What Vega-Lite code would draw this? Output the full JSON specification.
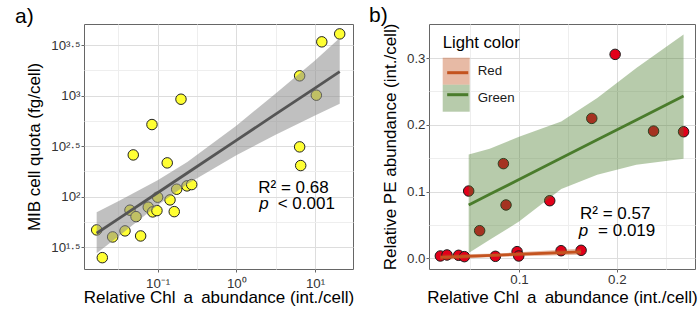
{
  "$schema": "https://vega.github.io/schema/vega-lite/v6.json",
  "padding": {"left": 14, "top": 4, "right": 5, "bottom": 0},
  "bounds": "flush",
  "spacing": 76,
  "config": {
    "font": "Liberation Sans",
    "view": {"stroke": "#666666", "strokeWidth": 1},
    "axis": {
      "domain": false,
      "tickSize": 3,
      "labelFontSize": 13.3,
      "labelColor": "#333333",
      "labelPadding": 2,
      "titleFontSize": 17,
      "titleFontWeight": "normal",
      "titleColor": "#000000"
    },
    "legend": {
      "titleFontSize": 16.7,
      "titleFontWeight": "normal",
      "titleColor": "#000000",
      "labelFontSize": 13.3,
      "labelColor": "#1a1a1a"
    }
  },
  "datasets": {
    "a_pts": [
      {"chl": 0.0168, "mib": 46.7}, {"chl": 0.0198, "mib": 24.8}, {"chl": 0.0268, "mib": 39.8},
      {"chl": 0.0385, "mib": 45.7}, {"chl": 0.0445, "mib": 73.3}, {"chl": 0.0531, "mib": 63.3},
      {"chl": 0.0608, "mib": 40.7}, {"chl": 0.076, "mib": 78.5}, {"chl": 0.0865, "mib": 70.5},
      {"chl": 0.098, "mib": 72.6}, {"chl": 0.1, "mib": 98.6}, {"chl": 0.1436, "mib": 92.7},
      {"chl": 0.1626, "mib": 70.9}, {"chl": 0.1746, "mib": 118.3}, {"chl": 0.236, "mib": 127.6},
      {"chl": 0.271, "mib": 131.5}, {"chl": 0.049, "mib": 258.8}, {"chl": 0.1324, "mib": 215.8},
      {"chl": 0.0847, "mib": 517.6}, {"chl": 0.198, "mib": 923}, {"chl": 6.38, "mib": 1574},
      {"chl": 6.38, "mib": 311}, {"chl": 6.58, "mib": 203}, {"chl": 10.4, "mib": 1012},
      {"chl": 12.2, "mib": 3420}, {"chl": 20.6, "mib": 4100}
    ],
    "a_fit": [
      {"chl": 0.01679, "fit": 43.25, "lo": 27.5, "hi": 70},
      {"chl": 0.03162, "fit": 60.1, "lo": 40.3, "hi": 89.7},
      {"chl": 0.1, "fit": 109.1, "lo": 82.0, "hi": 145.2},
      {"chl": 0.2382, "fit": 171.4, "lo": 133.0, "hi": 220.8},
      {"chl": 1, "fit": 360.6, "lo": 257.6, "hi": 504.7},
      {"chl": 3.162, "fit": 656.1, "lo": 409.3, "hi": 1052},
      {"chl": 10, "fit": 1191, "lo": 636.8, "hi": 2228},
      {"chl": 20.61, "fit": 1734, "lo": 830, "hi": 3742}
    ],
    "b_pts": [
      {"chl": 0.0195, "pe": 0.0035, "light": "Red"}, {"chl": 0.0263, "pe": 0.005, "light": "Red"},
      {"chl": 0.0382, "pe": 0.0045, "light": "Red"}, {"chl": 0.0441, "pe": 0.0025, "light": "Red"},
      {"chl": 0.0758, "pe": 0.003, "light": "Red"}, {"chl": 0.098, "pe": 0.01, "light": "Red"},
      {"chl": 0.0997, "pe": 0.0035, "light": "Red"}, {"chl": 0.143, "pe": 0.0114, "light": "Red"},
      {"chl": 0.1635, "pe": 0.012, "light": "Red"},
      {"chl": 0.0485, "pe": 0.1008, "light": "Green"}, {"chl": 0.0597, "pe": 0.0414, "light": "Green"},
      {"chl": 0.084, "pe": 0.1418, "light": "Green"}, {"chl": 0.0867, "pe": 0.0799, "light": "Green"},
      {"chl": 0.1314, "pe": 0.0863, "light": "Green"}, {"chl": 0.1744, "pe": 0.2096, "light": "Green"},
      {"chl": 0.1983, "pe": 0.3055, "light": "Green"}, {"chl": 0.2376, "pe": 0.1906, "light": "Green"},
      {"chl": 0.2683, "pe": 0.1896, "light": "Green"}
    ],
    "b_fit": [
      {"chl": 0.0195, "fit": 0.0015, "lo": -0.0025, "hi": 0.0055, "light": "Red"},
      {"chl": 0.0787, "fit": 0.0049, "lo": 0.0024, "hi": 0.0074, "light": "Red"},
      {"chl": 0.1635, "fit": 0.0097, "lo": 0.0052, "hi": 0.0142, "light": "Red"},
      {"chl": 0.0485, "fit": 0.0798, "lo": 0.008, "hi": 0.1557, "light": "Green"},
      {"chl": 0.07, "fit": 0.0958, "lo": 0.028, "hi": 0.164, "light": "Green"},
      {"chl": 0.1, "fit": 0.1181, "lo": 0.055, "hi": 0.182, "light": "Green"},
      {"chl": 0.1432, "fit": 0.1502, "lo": 0.104, "hi": 0.205, "light": "Green"},
      {"chl": 0.18, "fit": 0.1775, "lo": 0.125, "hi": 0.24, "light": "Green"},
      {"chl": 0.22, "fit": 0.2072, "lo": 0.14, "hi": 0.285, "light": "Green"},
      {"chl": 0.2683, "fit": 0.2431, "lo": 0.149, "hi": 0.3354, "light": "Green"}
    ],
    "a_txt": [{"chl": 1.9, "mib": 108, "t": "R² = 0.68"}],
    "a_p": [{"chl": 1.96, "mib": 75.6, "t": "p", "rest": "< 0.001"}],
    "b_txt": [{"chl": 0.1624, "pe": 0.0584, "t": "R² = 0.57"}],
    "b_p": [{"chl": 0.1611, "pe": 0.0334, "t": "p", "rest": "= 0.019"}]
  },
  "hconcat": [
    {
      "width": 269,
      "height": 245,
      "title": {"text": "a)", "anchor": "start", "frame": "group", "dx": -69, "fontSize": 21, "fontWeight": "normal", "baseline": "alphabetic", "offset": -20, "color": "#000000"},
      "layer": [
        {
          "data": {"name": "a_pts"},
          "mark": {"type": "circle", "size": 110, "fill": "#FFFF33", "fillOpacity": 1, "stroke": "#222222", "strokeWidth": 1},
          "encoding": {
            "x": {
              "field": "chl", "type": "quantitative",
              "scale": {"type": "log", "domain": [0.01159, 30.41], "nice": false},
              "axis": {
                "title": "Relative Chl \u2009a\u2009 abundance (int./cell)",
                "values": [0.031623, 0.1, 0.31623, 1, 3.1623, 10],
                "labelExpr": "abs(datum.value - 0.1) < 0.001 ? '10⁻¹' : abs(datum.value - 1) < 0.001 ? '10⁰' : abs(datum.value - 10) < 0.001 ? '10¹' : ''",
                "gridColor": {"condition": {"test": "abs(log(datum.value)/LN10 - round(log(datum.value)/LN10)) > 0.1", "value": "#EEEEEE"}, "value": "#DDDDDD"},
                "tickColor": {"condition": {"test": "abs(log(datum.value)/LN10 - round(log(datum.value)/LN10)) > 0.1", "value": "transparent"}, "value": "#666666"},
                "labelPadding": 4.5,
                "titlePadding": 0
              }
            },
            "y": {
              "field": "mib", "type": "quantitative",
              "scale": {"type": "log", "domain": [19.14, 5140], "nice": false},
              "axis": {
                "title": "MIB cell quota (fg/cell)",
                "values": [31.6228, 56.234, 100, 177.828, 316.228, 562.341, 1000, 1778.28, 3162.28],
                "labelExpr": "abs(log(datum.value)/LN10 - 1.5) < 0.01 ? '10¹·⁵' : abs(log(datum.value)/LN10 - 2) < 0.01 ? '10²' : abs(log(datum.value)/LN10 - 2.5) < 0.01 ? '10²·⁵' : abs(log(datum.value)/LN10 - 3) < 0.01 ? '10³' : abs(log(datum.value)/LN10 - 3.5) < 0.01 ? '10³·⁵' : ''",
                "gridColor": {"condition": {"test": "abs(log(datum.value)/LN10*2 - round(log(datum.value)/LN10*2)) > 0.1", "value": "#EEEEEE"}, "value": "#DDDDDD"},
                "tickColor": {"condition": {"test": "abs(log(datum.value)/LN10*2 - round(log(datum.value)/LN10*2)) > 0.1", "value": "transparent"}, "value": "#666666"},
                "labelPadding": 1,
                "titlePadding": 7
              }
            }
          }
        },
        {
          "data": {"name": "a_fit"},
          "mark": {"type": "area", "fill": "#8c8c8c", "fillOpacity": 0.55},
          "encoding": {
            "x": {"field": "chl", "type": "quantitative"},
            "y": {"field": "lo", "type": "quantitative"},
            "y2": {"field": "hi"}
          }
        },
        {
          "data": {"name": "a_fit"},
          "mark": {"type": "line", "stroke": "#555555", "strokeWidth": 2.8},
          "encoding": {
            "x": {"field": "chl", "type": "quantitative"},
            "y": {"field": "fit", "type": "quantitative"}
          }
        },
        {
          "data": {"name": "a_txt"},
          "mark": {"type": "text", "align": "left", "baseline": "alphabetic", "fontSize": 17, "color": "#000000"},
          "encoding": {
            "x": {"field": "chl", "type": "quantitative"},
            "y": {"field": "mib", "type": "quantitative"},
            "text": {"field": "t"}
          }
        },
        {
          "data": {"name": "a_p"},
          "mark": {"type": "text", "align": "left", "baseline": "alphabetic", "fontSize": 17, "fontStyle": "italic", "color": "#000000"},
          "encoding": {
            "x": {"field": "chl", "type": "quantitative"},
            "y": {"field": "mib", "type": "quantitative"},
            "text": {"field": "t"}
          }
        },
        {
          "data": {"name": "a_p"},
          "mark": {"type": "text", "align": "left", "baseline": "alphabetic", "fontSize": 17, "dx": 18.4, "color": "#000000"},
          "encoding": {
            "x": {"field": "chl", "type": "quantitative"},
            "y": {"field": "mib", "type": "quantitative"},
            "text": {"field": "rest"}
          }
        }
      ]
    },
    {
      "width": 266,
      "height": 245,
      "title": {"text": "b)", "anchor": "start", "frame": "group", "dx": -60, "fontSize": 21, "fontWeight": "normal", "baseline": "alphabetic", "offset": -20, "color": "#000000"},
      "layer": [
        {
          "data": {"name": "b_pts"},
          "mark": {"type": "circle", "size": 110, "fill": "#E2001A", "fillOpacity": 1, "stroke": "#1a1a1a", "strokeWidth": 1},
          "encoding": {
            "x": {
              "field": "chl", "type": "quantitative",
              "scale": {"domain": [0.0079, 0.28], "nice": false, "zero": false},
              "axis": {
                "title": "Relative Chl \u2009a\u2009 abundance (int./cell)",
                "values": [0.05, 0.1, 0.15, 0.2, 0.25],
                "labelExpr": "abs(datum.value*10 - round(datum.value*10)) > 0.01 ? '' : format(datum.value, '.1f')",
                "gridColor": {"condition": {"test": "abs(datum.value*10 - round(datum.value*10)) > 0.01", "value": "#EEEEEE"}, "value": "#DDDDDD"},
                "tickColor": {"condition": {"test": "abs(datum.value*10 - round(datum.value*10)) > 0.01", "value": "transparent"}, "value": "#666666"},
                "labelPadding": 0.5,
                "titlePadding": 4
              }
            },
            "y": {
              "field": "pe", "type": "quantitative",
              "scale": {"domain": [-0.016, 0.351], "nice": false, "zero": false},
              "axis": {
                "title": "Relative PE abundance (int./cell)",
                "values": [0, 0.05, 0.1, 0.15, 0.2, 0.25, 0.3],
                "labelExpr": "abs(datum.value*10 - round(datum.value*10)) > 0.01 ? '' : format(datum.value, '.1f')",
                "gridColor": {"condition": {"test": "abs(datum.value*10 - round(datum.value*10)) > 0.01", "value": "#EEEEEE"}, "value": "#DDDDDD"},
                "tickColor": {"condition": {"test": "abs(datum.value*10 - round(datum.value*10)) > 0.01", "value": "transparent"}, "value": "#666666"},
                "labelPadding": 1,
                "titlePadding": 7
              }
            }
          }
        },
        {
          "data": {"name": "b_fit"},
          "mark": {"type": "area", "fillOpacity": 0.4},
          "encoding": {
            "x": {"field": "chl", "type": "quantitative"},
            "y": {"field": "lo", "type": "quantitative"},
            "y2": {"field": "hi"},
            "fill": {
              "field": "light", "type": "nominal",
              "scale": {"domain": ["Red", "Green"], "range": ["#C4531F", "#4A7C2C"]},
              "legend": {
                "title": "Light color",
                "orient": "none",
                "legendX": 358.7,
                "legendY": 11,
                "padding": 0,
                "titlePadding": 6,
                "rowPadding": 0,
                "symbolType": "square",
                "symbolSize": 729,
                "symbolOpacity": 0.4,
                "symbolStrokeWidth": 0,
                "labelOffset": 8
              }
            }
          }
        },
        {
          "data": {"name": "b_fit"},
          "mark": {"type": "line", "strokeWidth": 2.8},
          "encoding": {
            "x": {"field": "chl", "type": "quantitative"},
            "y": {"field": "fit", "type": "quantitative"},
            "stroke": {
              "field": "light", "type": "nominal",
              "sort": ["Red", "Green"],
              "scale": {"range": ["#C4531F", "#4A7C2C"]},
              "legend": {
                "title": "Light color",
                "orient": "none",
                "legendX": 358.7,
                "legendY": 11,
                "padding": 0,
                "titlePadding": 6,
                "rowPadding": 0,
                "symbolType": "M-0.78,0H0.78",
                "symbolSize": 729,
                "symbolStrokeWidth": 3,
                "titleOpacity": 0,
                "labelOpacity": 0,
                "labelOffset": 8
              }
            }
          }
        },
        {
          "data": {"name": "b_txt"},
          "mark": {"type": "text", "align": "left", "baseline": "alphabetic", "fontSize": 17, "color": "#000000"},
          "encoding": {
            "x": {"field": "chl", "type": "quantitative"},
            "y": {"field": "pe", "type": "quantitative"},
            "text": {"field": "t"}
          }
        },
        {
          "data": {"name": "b_p"},
          "mark": {"type": "text", "align": "left", "baseline": "alphabetic", "fontSize": 17, "fontStyle": "italic", "color": "#000000"},
          "encoding": {
            "x": {"field": "chl", "type": "quantitative"},
            "y": {"field": "pe", "type": "quantitative"},
            "text": {"field": "t"}
          }
        },
        {
          "data": {"name": "b_p"},
          "mark": {"type": "text", "align": "left", "baseline": "alphabetic", "fontSize": 17, "dx": 19.3, "color": "#000000"},
          "encoding": {
            "x": {"field": "chl", "type": "quantitative"},
            "y": {"field": "pe", "type": "quantitative"},
            "text": {"field": "rest"}
          }
        }
      ]
    }
  ]
}
